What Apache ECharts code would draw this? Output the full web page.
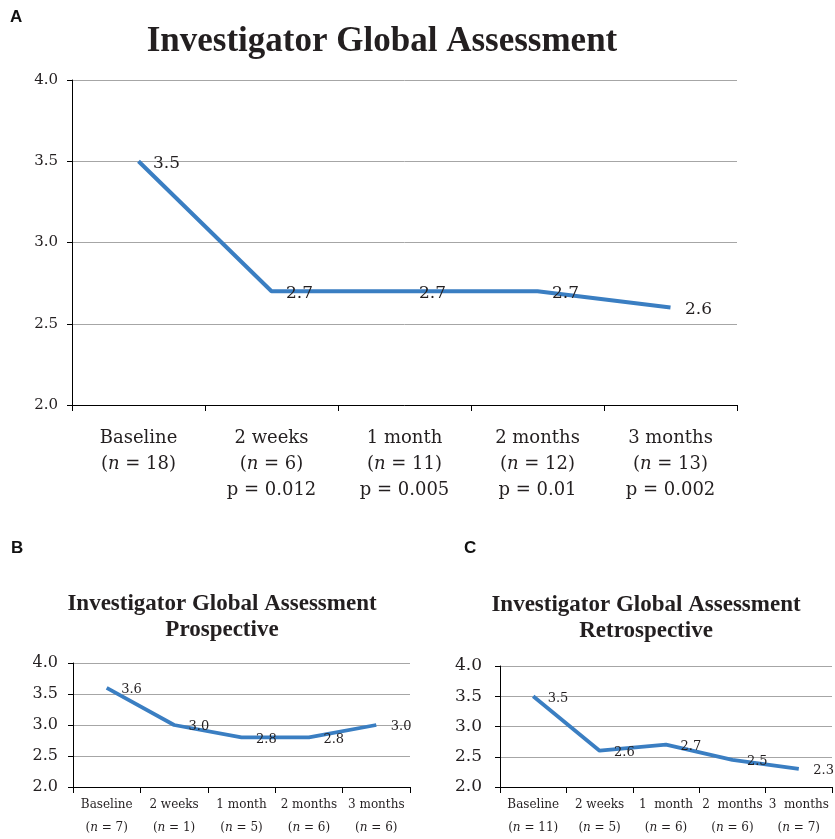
<!DOCTYPE html>
<html><head><meta charset="utf-8">
<script src="https://cdn.jsdelivr.net/npm/echarts@6/dist/echarts.min.js"></script>
<style>html,body{margin:0;padding:0;background:#fff}#c{width:835px;height:839px}</style>
</head><body><div id="c"></div>
<script>
// ---- data ----
const catsA = ['Baseline', '2 weeks', '1 month', '2 months', '3 months'];
const nA = [18, 6, 11, 12, 13];
const pA = [null, '0.012', '0.005', '0.01', '0.002'];
const valsA = [3.5, 2.7, 2.7, 2.7, 2.6];

const catsB = ['Baseline', '2 weeks', '1 month', '2 months', '3 months'];
const nB = [7, 1, 5, 6, 6];
const valsB = [3.6, 3.0, 2.8, 2.8, 3.0];

const catsC = ['Baseline', '2 weeks', '1  month', '2  months', '3  months'];
const nC = [11, 5, 6, 6, 7];
const valsC = [3.5, 2.6, 2.7, 2.45, 2.3];

const yTicks = [2.0, 2.5, 3.0, 3.5, 4.0];

// ---- build ----
const SERIF = 'DejaVu Serif';
const TSERIF = 'Liberation Serif';
const LINE = '#3a7ec2';
const TXT = '#231f20';

function labelsA() {
  return catsA.map((c, i) => c + '\n({i|n} = ' + nA[i] + ')' + (pA[i] ? '\np = ' + pA[i] : ''));
}
function labelsN(cats, ns) {
  return cats.map((c, i) => c + '\n({i|n} = ' + ns[i] + ')');
}
const fmt1 = p => (Math.round(p.value * 10) / 10).toFixed(1);

function yAxis(gi, fs, margin) {
  return {
    gridIndex: gi, type: 'value', min: yTicks[0], max: yTicks[yTicks.length - 1], interval: 0.5,
    axisLine: { show: true, lineStyle: { color: '#000', width: 1 } },
    axisTick: { show: true, length: 5, lineStyle: { color: '#000' } },
    splitLine: { show: true, lineStyle: { color: '#a6a6a6', width: 1 } },
    axisLabel: { color: TXT, fontFamily: SERIF, fontSize: fs, margin: margin, formatter: v => v.toFixed(1) }
  };
}
function xAxis(gi, data, fs, lh, margin) {
  return {
    gridIndex: gi, type: 'category', data: data, boundaryGap: true,
    axisLine: { show: true, lineStyle: { color: '#000', width: 1 } },
    axisTick: { show: true, length: 6, alignWithLabel: false, lineStyle: { color: '#000' } },
    axisLabel: {
      interval: 0, color: TXT, fontFamily: SERIF, fontSize: fs, lineHeight: lh, margin: margin,
      rich: { i: { fontStyle: 'italic', fontFamily: SERIF, fontSize: fs, lineHeight: lh, color: TXT } }
    }
  };
}
function series(i, vals, w, fs) {
  return {
    type: 'line', xAxisIndex: i, yAxisIndex: i, data: vals,
    symbol: 'circle', symbolSize: 1, itemStyle: { color: 'rgba(0,0,0,0)', borderWidth: 0 },
    lineStyle: { color: LINE, width: w }, silent: true,
    label: { show: true, position: 'right', distance: 14, offset: [0, 2], color: TXT, fontFamily: SERIF, fontSize: fs, formatter: fmt1 }
  };
}

const chart = echarts.init(document.getElementById('c'), null, { renderer: 'canvas' });
chart.setOption({
  animation: false,
  backgroundColor: '#fff',
  grid: [
    { left: 72, top: 80, width: 665, height: 325 },
    { left: 73, top: 663, width: 337, height: 130 },
    { left: 500, top: 666, width: 332, height: 127 }
  ],
  xAxis: [
    xAxis(0, labelsA(), 18, 26, 20),
    xAxis(1, labelsN(catsB, nB), 12, 23, 6),
    xAxis(2, labelsN(catsC, nC), 12, 23, 6)
  ],
  yAxis: [yAxis(0, 15, 14), yAxis(1, 16, 15), yAxis(2, 17, 18)],
  series: [series(0, valsA, 4, 17), series(1, valsB, 3.8, 13), series(2, valsC, 3.8, 13)],
  graphic: [
    { type: 'text', left: 10, top: 9, style: { text: 'A', font: 'bold 17px "Liberation Sans"', fill: '#111' } },
    { type: 'text', left: 11, top: 540, style: { text: 'B', font: 'bold 17px "Liberation Sans"', fill: '#111' } },
    { type: 'text', left: 464, top: 540, style: { text: 'C', font: 'bold 17px "Liberation Sans"', fill: '#111' } },
    { type: 'text', x: 382, y: 42, style: { text: 'Investigator Global Assessment', font: 'bold 35px "' + TSERIF + '"', fill: TXT, textAlign: 'center', textVerticalAlign: 'middle' } },
    { type: 'text', x: 222, y: 604, style: { text: 'Investigator Global Assessment', font: 'bold 23px "' + TSERIF + '"', fill: TXT, textAlign: 'center', textVerticalAlign: 'middle' } },
    { type: 'text', x: 222, y: 630, style: { text: 'Prospective', font: 'bold 23px "' + TSERIF + '"', fill: TXT, textAlign: 'center', textVerticalAlign: 'middle' } },
    { type: 'text', x: 646, y: 605, style: { text: 'Investigator Global Assessment', font: 'bold 23px "' + TSERIF + '"', fill: TXT, textAlign: 'center', textVerticalAlign: 'middle' } },
    { type: 'text', x: 646, y: 631, style: { text: 'Retrospective', font: 'bold 23px "' + TSERIF + '"', fill: TXT, textAlign: 'center', textVerticalAlign: 'middle' } }
  ]
});
</script></body></html>
